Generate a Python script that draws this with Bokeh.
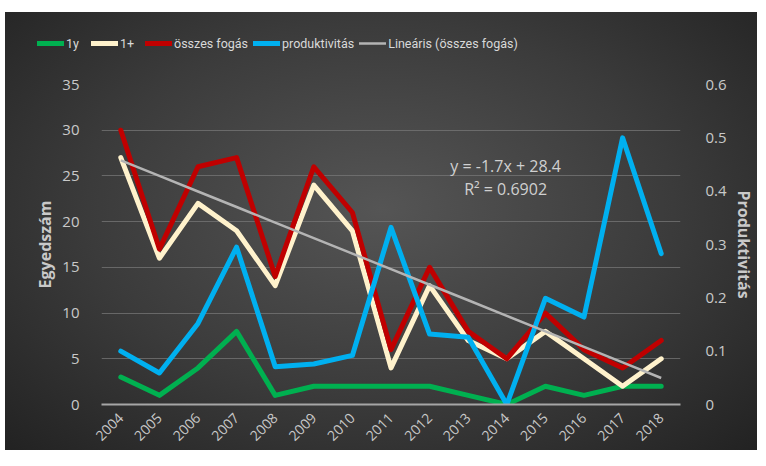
import numpy as np
from math import pi
from bokeh.plotting import figure
from bokeh.layouts import column
from bokeh.models import (Range1d, LinearAxis, FixedTicker, CustomJSTickFormatter,
                          Legend, LegendItem, Label, ColumnDataSource)
from bokeh.embed import file_html
from bokeh.resources import INLINE

years = [str(y) for y in range(2004, 2019)]
egy = [3, 1, 4, 8, 1, 2, 2, 2, 2, 1, 0, 2, 1, 2, 2]
egyplus = [27, 16, 22, 19, 13, 24, 19, 4, 13, 7, 5, 8, 5, 2, 5]
osszes = [30, 17, 26, 27, 14, 26, 21, 6, 15, 8, 5, 10, 6, 4, 7]
prod = [0.100, 0.059, 0.152, 0.295, 0.071, 0.076, 0.092, 0.332, 0.132, 0.126,
        0.0, 0.199, 0.164, 0.500, 0.283]
left_ticks = [0, 5, 10, 15, 20, 25, 30, 35]
right_ticks = [0, 0.1, 0.2, 0.3, 0.4, 0.5, 0.6]
series_names = ["1y", "1+", "összes fogás", "produktivitás", "Lineáris (összes fogás)"]
series_colors = ["#00b050", "#fff2cc", "#c00000", "#00b0f0", "#b4b4b4"]
series_widths = [5, 5, 5, 5, 2.5]

# linear trend of "összes fogás"
xi = np.arange(1, len(osszes) + 1)
slope, intercept = np.polyfit(xi, osszes, 1)
trend = slope * xi + intercept
ss_res = np.sum((np.array(osszes) - trend) ** 2)
ss_tot = np.sum((np.array(osszes) - np.mean(osszes)) ** 2)
r2 = 1 - ss_res / ss_tot

src = ColumnDataSource(dict(x=years, egy=egy, egyplus=egyplus, osszes=osszes,
                            prod=prod, trend=trend))

TXT = "#c9c9c9"
FONT = "Open Sans"
LEFT = 96   # frame left inside layout
W = LEFT + 579 + 75

# ---------- legend strip ----------
top = figure(width=W, height=48, x_range=Range1d(0, 1), y_range=Range1d(0, 1),
             x_axis_location=None, y_axis_location=None, min_border=0,
             output_backend="svg", toolbar_location=None,
             background_fill_alpha=0, border_fill_alpha=0, outline_line_color=None,
             styles={"transform": "translateX(-64px)"})
top.grid.visible = False
items = []
for name, col, lw in zip(series_names, series_colors, series_widths):
    # single-point proxy (draws nothing) so the legend can show the line style
    r = top.line(x=[0], y=[0], line_color=col, line_width=lw, line_cap="round")
    items.append(LegendItem(label=name, renderers=[r]))
legend = Legend(items=items, orientation="horizontal", location=(0, 7),
                background_fill_alpha=0, border_line_color=None,
                glyph_width=27, glyph_height=20, label_height=20,
                label_standoff=2, spacing=5, padding=0, margin=0,
                label_text_color="#d9d9d9", label_text_font="Roboto",
                label_text_font_size="12.5px")
top.add_layout(legend, "center")

# ---------- main chart ----------
p = figure(x_range=years, y_range=Range1d(0, 35),
           frame_width=579, frame_height=320,
           min_border_left=LEFT, min_border_right=75, min_border_top=24, min_border_bottom=46,
           output_backend="svg", toolbar_location=None,
           background_fill_alpha=0, border_fill_alpha=0, outline_line_color=None)
p.extra_y_ranges = {"prod": Range1d(0, 0.6)}

p.xgrid.grid_line_color = None
p.ygrid.ticker = FixedTicker(ticks=left_ticks)
p.ygrid.grid_line_color = "#777777"
p.ygrid.grid_line_alpha = 0.75
p.ygrid.grid_line_width = 1

ya = p.yaxis[0]
ya.ticker = FixedTicker(ticks=left_ticks)
ya.axis_label = "Egyedszám"

ra = LinearAxis(y_range_name="prod", ticker=FixedTicker(ticks=right_ticks),
                formatter=CustomJSTickFormatter(code="return tick == 0 ? '0' : tick.toFixed(1)"),
                axis_label="Produktivitás")
p.add_layout(ra, "right")

for ax in [ya, ra]:
    ax.axis_line_color = None
    ax.major_tick_line_color = None
    ax.minor_tick_line_color = None
    ax.major_label_text_color = TXT
    ax.major_label_text_font = FONT
    ax.major_label_text_font_size = "15px"
    ax.axis_label_text_color = TXT
    ax.axis_label_text_font = FONT
    ax.axis_label_text_font_size = "16px"
    ax.axis_label_text_font_style = "bold"
ya.major_label_standoff = 16
ra.major_label_standoff = 19
ya.axis_label_standoff = 3
ra.axis_label_standoff = 3

xa = p.xaxis[0]
xa.axis_line_color = "#a6a6a6"
xa.axis_line_width = 2
xa.major_tick_line_color = None
xa.minor_tick_line_color = None
xa.major_label_orientation = pi / 4
xa.major_label_text_color = TXT
xa.major_label_text_font = FONT
xa.major_label_text_font_size = "14px"
xa.major_label_standoff = 5

cols = ["egy", "egyplus", "osszes", "prod", "trend"]
for c, col, lw in zip(cols, series_colors, series_widths):
    kw = dict(y_range_name="prod") if c == "prod" else {}
    if c == "trend":
        p.line("x", c, source=src, line_color=col, line_width=lw, **kw)
    else:
        p.line("x", c, source=src, line_color=col, line_width=lw,
               line_join="round", line_cap="round", **kw)

eq1 = "y = %.1fx + %.1f" % (slope, intercept)
eq2 = "R² = %.4f" % r2
p.add_layout(Label(x=10.47, y=26.1, text=eq1, text_align="center", text_baseline="middle",
                   text_color="#d0d0d0", text_font=FONT, text_font_size="16px"))
p.add_layout(Label(x=10.47, y=23.6, text=eq2, text_align="center", text_baseline="middle",
                   text_color="#d0d0d0", text_font=FONT, text_font_size="16px"))

layout = column(top, p, spacing=0,
                styles={"background": "radial-gradient(ellipse at 50% 45%, #555555 0%, #3b3b3b 55%, #222222 100%)",
                        "margin-top": "12px", "margin-left": "5px"})

open("out.html", "w").write(file_html(layout, INLINE))
